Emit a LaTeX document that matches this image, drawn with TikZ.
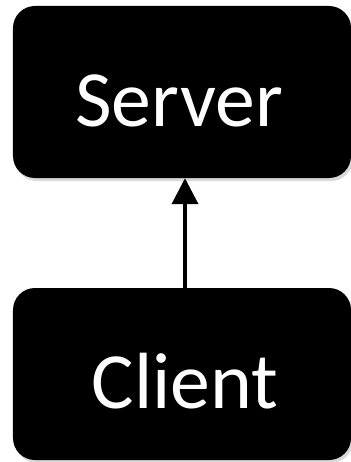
\documentclass[tikz,border=0pt]{standalone}
\usepackage{fontspec}
\setmainfont{Carlito}
\usetikzlibrary{shadows,arrows.meta}
\begin{document}
\begin{tikzpicture}[x=1bp,y=-1bp,
  box/.style={fill=black, rounded corners=22bp, inner sep=0pt,
    minimum width=338bp, minimum height=172bp,
    drop shadow={opacity=0.3, shadow xshift=2bp, shadow yshift=-3bp}},
  lbl/.style={text=white, font=\fontsize{80}{80}\selectfont, inner sep=0pt, anchor=base},
  conn/.style={line width=3.8bp, -{Triangle[width=26bp,length=26bp]}}]
\useasboundingbox (0,0) rectangle (350,462);
\node[box] (serverbox) at (182,92) {};
\node[box] (clientbox) at (182,374) {};
\node[lbl] (server) at (179,127) {Server};
\node[lbl] (client) at (185,408) {Client};
\draw[conn] (clientbox.north -| 185,0) -- (serverbox.south -| 185,0);
\end{tikzpicture}
\end{document}
